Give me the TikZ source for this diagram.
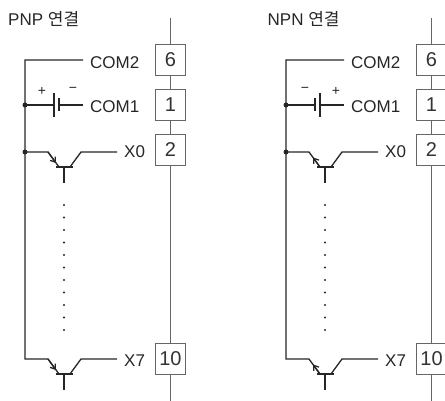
\documentclass[tikz,border=0pt]{standalone}
\usepackage{fontspec}
\setmainfont{Liberation Sans}
\newfontfamily\kofont{Noto Sans CJK KR}
\usetikzlibrary{arrows.meta}

\begin{document}
\begin{tikzpicture}[x=1pt, y=-1pt,
  wire/.style={line width=1.3pt, black!85},
  rail/.style={line width=0.8pt, black!60},
  term/.style={draw=black!60, line width=0.8pt, fill=white, minimum width=30pt, minimum height=31pt, inner sep=0pt, text=black!80, font=\fontsize{20}{20}\selectfont},
  lbl/.style={anchor=base west, inner sep=0pt, text=black!85, font=\fontsize{17}{17}\selectfont},
  sign/.style={inner sep=0pt, text=black!85, font=\fontsize{14}{14}\selectfont},
  junction/.style={circle, fill=black!85, inner sep=0pt, minimum size=5pt},
  vdots/.style={line width=2.2pt, black!85, line cap=round, dash pattern=on 0pt off 12.5pt},
  emit/.style={wire, -{Straight Barb[length=4.5pt, width=6.5pt]}}]

  \useasboundingbox (0,0) rectangle (445,401);

  %%% PNP connection
  \node[lbl] (ptitle) at (8,25.5) {PNP {\kofont 연결}};

  % Terminals on the rail
  \node[term] (p6) at (170.5,59.5) {6};
  \node[term] (p1) at (170.5,104.5) {1};
  \node[term] (p2) at (170.5,150) {2};
  \node[term] (p10) at (170.5,359) {10};
  \coordinate (ptop) at (170.5,18);
  \coordinate (pbot) at (170.5,401);
  \draw[rail] (ptop) -- (p6) -- (p1) -- (p2) -- (p10) -- (pbot);

  % Labels
  \node[lbl] (pcom2) at (90,68.5) {COM2};
  \node[lbl] (pcom1) at (90,113) {COM1};
  \node[lbl] (px0) at (124,158) {X0};
  \node[lbl] (px7) at (124,366) {X7};

  % Common line and junctions
  \draw[wire] (83,60) -- (25,60) -- (25,359) -- (48,359) -- (59,374);
  \node[junction] (pj1) at (25,105) {};
  \node[junction] (pj2) at (25,152) {};

  % Battery
  \draw[wire] (25,105) -- (54,105);
  \draw[wire] (54,93) -- (54,117);
  \draw[wire] (59,98) -- (59,111);
  \draw[wire] (59,105) -- (83,105);
  \node[sign] (pplus) at (42,91) {+};
  \node[sign] (pminus) at (73,90) {−};

  % Transistor X0
  \draw[wire] (25,152) -- (48,152) -- (59,167);
  \draw[emit] (48,152) -- (56,163);
  \draw[wire] (56,167) -- (73,167);
  \draw[wire] (70,167) -- (81,152) -- (117,152);
  \draw[wire] (64,167) -- (64,183);

  % Transistor X7
  \draw[emit] (48,359) -- (56,370);
  \draw[wire] (56,374) -- (73,374);
  \draw[wire] (70,374) -- (81,359) -- (117,359);
  \draw[wire] (64,374) -- (64,390);

  % Spot the skipped inputs
  \draw[vdots] (64,205) -- (64,330.2);

  %%% NPN connection
  \begin{scope}[xshift=261pt]
    \node[lbl] (ntitle) at (6.5,25.5) {NPN {\kofont 연결}};

    % Terminals on the rail
    \node[term] (n6) at (170.5,59.5) {6};
    \node[term] (n1) at (170.5,104.5) {1};
    \node[term] (n2) at (170.5,150) {2};
    \node[term] (n10) at (170.5,359) {10};
    \coordinate (ntop) at (170.5,18);
    \coordinate (nbot) at (170.5,401);
    \draw[rail] (ntop) -- (n6) -- (n1) -- (n2) -- (n10) -- (nbot);

    % Labels
    \node[lbl] (ncom2) at (90,68.5) {COM2};
    \node[lbl] (ncom1) at (90,113) {COM1};
    \node[lbl] (nx0) at (124,158) {X0};
    \node[lbl] (nx7) at (124,366) {X7};

    % Common line and junctions
    \draw[wire] (83,60) -- (25,60) -- (25,359) -- (48,359) -- (59,374);
    \node[junction] (nj1) at (25,105) {};
    \node[junction] (nj2) at (25,152) {};

    % Battery
    \draw[wire] (25,105) -- (54,105);
    \draw[wire] (54,98) -- (54,111);
    \draw[wire] (59,93) -- (59,117);
    \draw[wire] (59,105) -- (83,105);
    \node[sign] (nminus) at (44,90) {−};
    \node[sign] (nplus) at (75,91) {+};

    % Transistor X0
    \draw[wire] (25,152) -- (48,152) -- (59,167);
    \draw[emit] (59,167) -- (52,157.5);
    \draw[wire] (56,167) -- (73,167);
    \draw[wire] (70,167) -- (81,152) -- (117,152);
    \draw[wire] (64,167) -- (64,183);

    % Transistor X7
    \draw[emit] (59,374) -- (52,364.5);
    \draw[wire] (56,374) -- (73,374);
    \draw[wire] (70,374) -- (81,359) -- (117,359);
    \draw[wire] (64,374) -- (64,390);

    % Spot the skipped inputs
    \draw[vdots] (64,205) -- (64,330.2);
  \end{scope}

\end{tikzpicture}
\end{document}
